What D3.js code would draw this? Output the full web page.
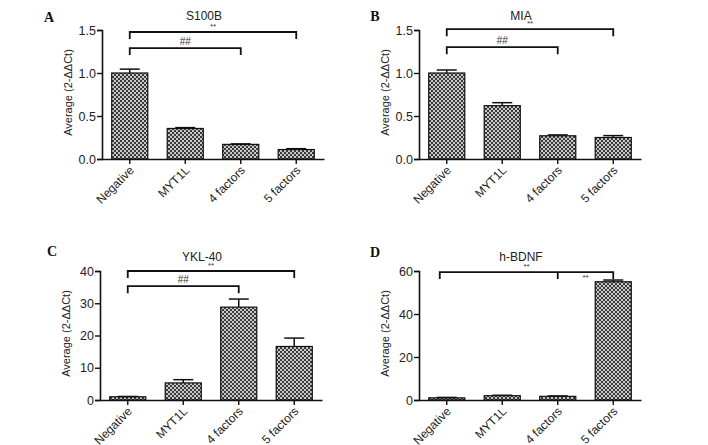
<!DOCTYPE html>
<html><head><meta charset="utf-8">
<script src="https://cdn.jsdelivr.net/npm/d3@7"></script>
<style>body{margin:0;background:#fff}svg{display:block}</style>
</head><body>
<svg id="c" width="708" height="445"></svg>
<script>
const categories = ["Negative", "MYT1L", "4 factors", "5 factors"];
const titles = ["S100B", "MIA", "YKL-40", "h-BDNF"];
const letters = ["A", "B", "C", "D"];
const meanA = [1.0, 0.355, 0.17, 0.11];
const errA = [0.045, 0.01, 0.006, 0.01];
const meanB = [1.0, 0.62, 0.27, 0.25];
const errB = [0.035, 0.035, 0.01, 0.022];
const meanC = [1.0, 5.3, 28.8, 16.6];
const errC = [0.1, 1.0, 2.5, 2.6];
const meanD = [1.0, 2.0, 1.7, 55.0];
const errD = [0.2, 0.2, 0.2, 0.8];
const yMax = [1.5, 1.5, 40, 60];
const yTicksA = [0, 0.5, 1.0, 1.5];
const yTicksC = [0, 10, 20, 30, 40];
const yTicksD = [0, 20, 40, 60];
// brackets: [from, to, y value, label, middle tick category]
const bracketsA = [["Negative", "5 factors", 1.477, "**"], ["Negative", "4 factors", 1.29, "##"]];
const bracketsB = [["Negative", "5 factors", 1.51, "**"], ["Negative", "4 factors", 1.3, "##"]];
const bracketsC = [["Negative", "5 factors", 40, "**"], ["Negative", "4 factors", 35.3, "##"]];
const bracketsD = [["Negative", "5 factors", 59.5, "**", "4 factors"]];
const subLabelsD = [["4 factors", "5 factors", 59.5, "**"]];

const panels = [
  {x:102, y0:159, means:meanA, errs:errA, ticks:yTicksA, fmt:d3.format(".1f"), br:bracketsA, sub:[], lx:49, ly:22, bOff:0},
  {x:419, y0:159, means:meanB, errs:errB, ticks:yTicksA, fmt:d3.format(".1f"), br:bracketsB, sub:[], lx:375, ly:21, bOff:0},
  {x:100, y0:400, means:meanC, errs:errC, ticks:yTicksC, fmt:d3.format("d"), br:bracketsC, sub:[], lx:52, ly:256, bOff:0},
  {x:419, y0:400, means:meanD, errs:errD, ticks:yTicksD, fmt:d3.format("d"), br:bracketsD, sub:subLabelsD, lx:375, ly:257, bOff:-7}
];

const svg = d3.select("#c");
const defs = svg.append("defs");
const pat = defs.append("pattern").attr("id","chk").attr("patternUnits","userSpaceOnUse").attr("width",4).attr("height",4);
pat.append("rect").attr("width",4).attr("height",4).attr("fill","#c8c8c8");
pat.append("rect").attr("width",2).attr("height",2).attr("fill","#3a3a3a");
pat.append("rect").attr("x",2).attr("y",2).attr("width",2).attr("height",2).attr("fill","#3a3a3a");

const W = 222, H = 129;
const font = "Liberation Sans, Arial, sans-serif";

panels.forEach((p, i) => {
  const g = svg.append("g").attr("transform", `translate(${p.x},${p.y0 - H})`);
  const x = d3.scaleBand().domain(categories).range([0, W]).paddingInner(0.35).paddingOuter(0.175);
  const y = d3.scaleLinear().domain([0, yMax[i]]).range([H, 0]);

  g.selectAll("rect.bar").data(categories).enter().append("rect")
    .attr("x", d => x(d)).attr("width", x.bandwidth())
    .attr("y", (d, j) => y(p.means[j])).attr("height", (d, j) => H - y(p.means[j]))
    .attr("fill", "url(#chk)").attr("stroke", "#111").attr("stroke-width", 1.2);

  categories.forEach((c, j) => {
    const cx = x(c) + x.bandwidth() / 2;
    const yt = y(p.means[j] + p.errs[j]), yb = y(p.means[j]);
    g.append("line").attr("x1", cx).attr("x2", cx).attr("y1", yb).attr("y2", yt).attr("stroke", "#111").attr("stroke-width", 1.5);
    g.append("line").attr("x1", cx - 10).attr("x2", cx + 10).attr("y1", yt).attr("y2", yt).attr("stroke", "#111").attr("stroke-width", 1.5);
  });

  const ya = g.append("g").call(d3.axisLeft(y).tickValues(p.ticks).tickFormat(p.fmt).tickSizeOuter(0).tickSize(5));
  ya.select(".domain").attr("stroke-width", 1.6).attr("stroke", "#111");
  ya.selectAll(".tick line").attr("stroke-width", 1.4).attr("stroke", "#111");
  ya.selectAll("text").attr("font-family", font).attr("font-size", 12.5).attr("fill", "#222").attr("x", -6);

  const xa = g.append("g").attr("transform", `translate(0,${H})`).call(d3.axisBottom(x).tickSize(5).tickSizeOuter(0));
  xa.select(".domain").attr("stroke-width", 1.6).attr("stroke", "#111");
  xa.selectAll(".tick line").attr("stroke-width", 1.4).attr("stroke", "#111");
  xa.selectAll("text").attr("font-family", font).attr("font-size", 12).attr("fill", "#222")
    .attr("text-anchor", "end").attr("dy", 0).attr("y", 0)
    .attr("transform", "translate(5,12) rotate(-45)");

  g.append("text").attr("transform", `translate(-30,${H/2 - 2}) rotate(-90)`)
    .attr("text-anchor", "middle").attr("font-family", font).attr("font-size", 11).attr("fill", "#222")
    .text("Average (2-ΔΔCt)");

  g.append("text").attr("x", W / 2 - 9).attr("y", -10).attr("text-anchor", "middle")
    .attr("font-family", font).attr("font-size", 12).attr("fill", "#222").text(titles[i]);

  p.br.forEach(b => {
    const x1 = x(b[0]) + x.bandwidth() / 2 + p.bOff, x2 = x(b[1]) + x.bandwidth() / 2, yy = y(b[2]);
    g.append("path").attr("d", `M${x1},${yy + 7}V${yy}H${x2}V${yy + 7}`).attr("fill", "none").attr("stroke", "#111").attr("stroke-width", 1.8);
    if (b[4]) {
      const xm = x(b[4]) + x.bandwidth() / 2;
      g.append("line").attr("x1", xm).attr("x2", xm).attr("y1", yy).attr("y2", yy + 7).attr("stroke", "#111").attr("stroke-width", 1.8);
    }
    g.append("text").attr("x", (x1 + x2) / 2).attr("y", yy - 3).attr("text-anchor", "middle")
      .attr("font-family", font).attr("font-size", b[3] === "##" ? 10 : 8).attr("fill", "#333").text(b[3]);
  });
  p.sub.forEach(b => {
    const x1 = x(b[0]) + x.bandwidth() / 2, x2 = x(b[1]) + x.bandwidth() / 2, yy = y(b[2]);
    g.append("text").attr("x", (x1 + x2) / 2).attr("y", yy + 8).attr("text-anchor", "middle")
      .attr("font-family", font).attr("font-size", 8).attr("fill", "#333").text(b[3]);
  });

  svg.append("text").attr("x", p.lx).attr("y", p.ly).attr("text-anchor", "middle")
    .attr("font-family", "Liberation Serif, Times New Roman, serif").attr("font-weight", "bold")
    .attr("font-size", 14).attr("fill", "#111").text(letters[i]);
});
</script>
</body></html>
